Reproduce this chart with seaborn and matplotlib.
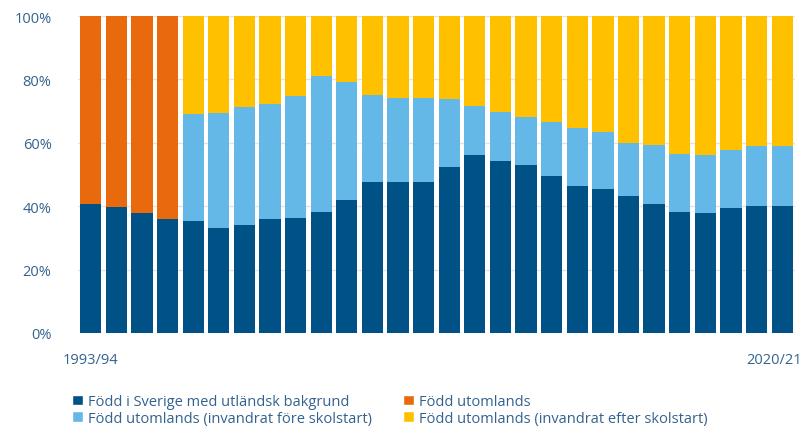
import matplotlib.pyplot as plt
import seaborn as sns
import pandas as pd
import numpy as np
from matplotlib.patches import Patch
from matplotlib.transforms import ScaledTranslation

# Seasons 1993/94 .. 2020/21
seasons = [f"{y}/{str(y + 1)[-2:]}" for y in range(1993, 2021)]

# Shares in percent
fodd_sverige = [40.8, 39.6, 37.8, 36.1, 35.3, 33.1, 34.2, 36.1, 36.4, 38.3,
                41.8, 47.5, 47.5, 47.5, 52.4, 56.1, 54.2, 52.9, 49.6, 46.4,
                45.5, 43.1, 40.7, 38.3, 37.7, 39.3, 40.2, 40.2]
fodd_utomlands = [59.2, 60.4, 62.2, 63.9] + [0] * 24
fore_skolstart = [0] * 4 + [33.8, 36.3, 37.2, 36.1, 38.3, 42.8, 37.4, 27.6,
                            26.6, 26.6, 21.5, 15.5, 15.5, 15.3, 16.9, 18.3,
                            18.0, 16.9, 18.7, 18.2, 18.5, 18.5, 18.9, 18.7]
efter_skolstart = [0] * 4 + [30.9, 30.6, 28.6, 27.8, 25.3, 18.9, 20.8, 24.9,
                             25.9, 25.9, 26.1, 28.4, 30.3, 31.8, 33.5, 35.3,
                             36.5, 40.0, 40.6, 43.5, 43.8, 42.2, 40.9, 41.1]

labels = ["Född i Sverige med utländsk bakgrund", "Född utomlands",
          "Född utomlands (invandrat före skolstart)",
          "Född utomlands (invandrat efter skolstart)"]
colors = ["#005286", "#E96A0C", "#63B8E8", "#FFC000"]

df = pd.DataFrame({"season": seasons, "sverige": fodd_sverige,
                   "utomlands": fodd_utomlands, "fore": fore_skolstart,
                   "efter": efter_skolstart})

sns.set_style("white")
plt.rcParams['font.family'] = ['Open Sans', 'DejaVu Sans']
text_col = "#33628e"
fs = 10.5

fig = plt.figure(figsize=(8.03, 4.27), dpi=100)
ax = fig.add_axes([0.097, 0.218, 0.893, 0.742])

bottom = np.zeros(len(df))
for col, c in zip(["sverige", "utomlands", "fore", "efter"], colors):
    sns.barplot(data=df, x="season", y=col, color=c, bottom=bottom,
                width=0.83, linewidth=0, saturation=1, ax=ax, zorder=2)
    bottom = bottom + df[col].values

ax.set_ylim(0, 100)
ax.set_xlim(-0.5, len(df) - 0.5)
ax.set_yticks([0, 20, 40, 60, 80, 100])
ax.set_yticklabels([f"{v}%" for v in [0, 20, 40, 60, 80, 100]])
ax.set_xticks([0, len(df) - 1])
ax.set_xticklabels([seasons[0], seasons[-1]])
ax.tick_params(axis='x', length=0, pad=14, labelsize=fs, labelcolor=text_col)
ax.tick_params(axis='y', length=0, pad=19, labelsize=fs, labelcolor=text_col)
ax.set_xlabel("")
ax.set_ylabel("")
ax.yaxis.grid(True, color="#f9dccb", linewidth=1, zorder=0)
ax.set_axisbelow(True)
sns.despine(ax=ax, left=True, bottom=True)

# nudge the last season label so it stays inside the figure
last = ax.get_xticklabels()[-1]
last.set_transform(last.get_transform() +
                   ScaledTranslation(-0.08, 0, fig.dpi_scale_trans))

handles = [Patch(facecolor=colors[0], label=labels[0]),
           Patch(facecolor=colors[2], label=labels[2]),
           Patch(facecolor=colors[1], label=labels[1]),
           Patch(facecolor=colors[3], label=labels[3])]
leg = fig.legend(handles=handles, ncol=2, loc='upper left',
                 bbox_to_anchor=(72 / 803, 1 - 395 / 427), frameon=False,
                 borderpad=0, borderaxespad=0,
                 handlelength=0.75, handleheight=0.75, handletextpad=0.35,
                 columnspacing=2.1, labelspacing=0.12, fontsize=fs)
for t in leg.get_texts():
    t.set_color(text_col)

fig.savefig("out.png", dpi=100)
